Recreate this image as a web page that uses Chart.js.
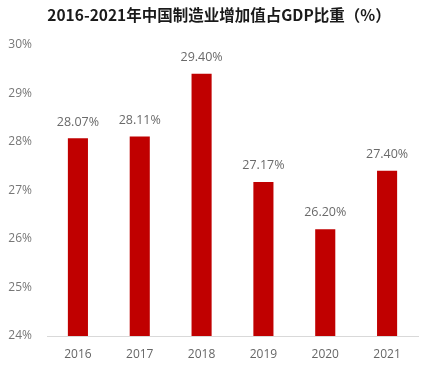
<!DOCTYPE html>
<html lang="zh">
<head>
<meta charset="UTF-8" />
<title>制造业增加值占GDP比重</title>
<script src="https://cdn.jsdelivr.net/npm/chart.js@4.4.1/dist/chart.umd.min.js"></script>
<style>
  html, body { margin: 0; padding: 0; background: #fff; }
  #wrap { width: 430px; height: 369px; }
</style>
</head>
<body>
<div id="wrap"><canvas id="myChart" width="430" height="369"></canvas></div>
<script>
const years = ['2016', '2017', '2018', '2019', '2020', '2021'];
const shares = [28.07, 28.11, 29.40, 27.17, 26.20, 27.40];
const yTicks = [24, 25, 26, 27, 28, 29, 30];

// draw the value above each bar
const valueLabels = {
  id: 'valueLabels',
  afterDatasetsDraw(chart) {
    const ctx = chart.ctx;
    const meta = chart.getDatasetMeta(0);
    ctx.save();
    ctx.font = '12.5px "Open Sans", "Noto Sans", sans-serif';
    ctx.fillStyle = '#6a6a6a';
    ctx.textAlign = 'center';
    ctx.textBaseline = 'bottom';
    meta.data.forEach((bar, i) => {
      ctx.fillText(shares[i].toFixed(2) + '%', bar.x, bar.y - 10);
    });
    ctx.restore();
  }
};

// nudge the title box so it sits a little right, like the original
const titleShift = {
  id: 'titleShift',
  afterLayout(chart) {
    if (chart.titleBlock) chart.titleBlock.left += 12;
  }
};

const ctx = document.getElementById('myChart').getContext('2d');
new Chart(ctx, {
  type: 'bar',
  data: {
    labels: years,
    datasets: [{
      data: shares,
      backgroundColor: '#C00000',
      barPercentage: 0.65,
      categoryPercentage: 0.5
    }]
  },
  options: {
    responsive: false,
    animation: false,
    layout: { padding: { left: 8, right: 12, top: 4, bottom: 0 } },
    plugins: {
      legend: { display: false },
      tooltip: { enabled: false },
      title: {
        display: true,
        text: '2016-2021年中国制造业增加值占GDP比重（%）',
        color: '#1a1a1a',
        font: { family: '"Noto Sans CJK SC", sans-serif', size: 15.5, weight: 'bold' },
        padding: { top: 2, bottom: 20 }
      }
    },
    scales: {
      y: {
        min: 24,
        max: 30,
        afterBuildTicks(axis) { axis.ticks = yTicks.map(v => ({ value: v })); },
        afterFit(axis) { axis.width = 39; },
        grid: { display: false, drawTicks: false },
        border: { display: false },
        ticks: {
          padding: 15,
          color: '#777777',
          font: { family: '"Open Sans", "Noto Sans", sans-serif', size: 12 },
          callback: v => v + '%'
        }
      },
      x: {
        afterFit(axis) { axis.height = 33; },
        grid: { display: false, drawTicks: false },
        border: { display: true, color: '#d9d9d9', width: 1 },
        ticks: {
          padding: 11,
          color: '#666666',
          font: { family: '"Open Sans", "Noto Sans", sans-serif', size: 12 }
        }
      }
    }
  },
  plugins: [valueLabels, titleShift]
});
</script>
</body>
</html>
